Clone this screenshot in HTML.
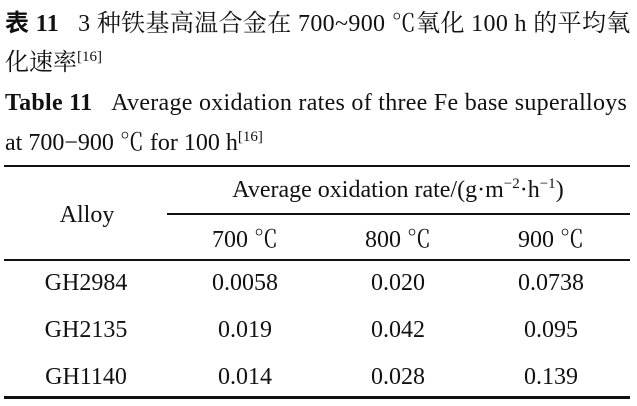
<!DOCTYPE html>
<html><head><meta charset="utf-8"><style>
body{margin:0;width:637px;height:406px;background:#fff;overflow:hidden;position:relative;font-family:"Liberation Serif","Noto Serif CJK SC",serif;color:#111;}
.t{position:absolute;white-space:nowrap;line-height:1;}
.c{position:absolute;white-space:nowrap;line-height:1;transform:translateX(-50%);font-size:24px;}
.r{position:absolute;background:#111;}
sup{font-size:15px;vertical-align:0;position:relative;top:-9px;}
b{font-family:"Liberation Serif","Noto Sans CJK SC",serif;}
</style></head><body>
<div class="t" style="left:5px;top:12px;font-size:24px;letter-spacing:0.35px"><b>表 11</b>&nbsp;&nbsp;&nbsp;3 种铁基高温合金在 700~900 ℃氧化 100 h 的平均氧</div>
<div class="t" style="left:5px;top:51px;font-size:24px">化速率<sup>[16]</sup></div>
<div class="t" style="left:5px;top:91px;font-size:24px;letter-spacing:0.28px"><b>Table 11</b>&nbsp;&nbsp;&nbsp;Average oxidation rates of three Fe base superalloys</div>
<div class="t" style="left:5px;top:131px;font-size:24px">at 700−900 ℃ for 100 h<sup>[16]</sup></div>
<div class="r" style="left:4px;top:165px;width:626px;height:2px"></div>
<div class="c" style="left:398px;top:178px">Average oxidation rate/(g·m<sup>−2</sup>·h<sup>−1</sup>)</div>
<div class="c" style="left:87px;top:203px">Alloy</div>
<div class="r" style="left:167px;top:213px;width:463px;height:1.5px"></div>
<div class="c" style="left:245px;top:228px">700 ℃</div>
<div class="c" style="left:398px;top:228px">800 ℃</div>
<div class="c" style="left:551px;top:228px">900 ℃</div>
<div class="r" style="left:4px;top:259px;width:626px;height:1.5px"></div>
<div class="c" style="left:86px;top:271px">GH2984</div>
<div class="c" style="left:245px;top:271px">0.0058</div>
<div class="c" style="left:398px;top:271px">0.020</div>
<div class="c" style="left:551px;top:271px">0.0738</div>
<div class="c" style="left:86px;top:318px">GH2135</div>
<div class="c" style="left:245px;top:318px">0.019</div>
<div class="c" style="left:398px;top:318px">0.042</div>
<div class="c" style="left:551px;top:318px">0.095</div>
<div class="c" style="left:86px;top:365px">GH1140</div>
<div class="c" style="left:245px;top:365px">0.014</div>
<div class="c" style="left:398px;top:365px">0.028</div>
<div class="c" style="left:551px;top:365px">0.139</div>
<div class="r" style="left:4px;top:396px;width:626px;height:2.5px"></div>
</body></html>
